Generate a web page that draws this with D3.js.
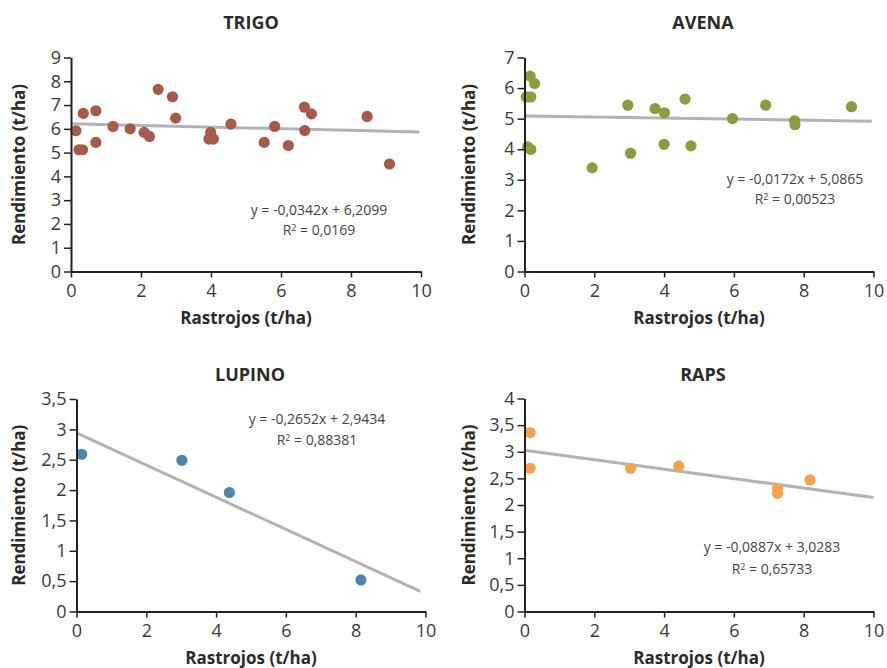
<!DOCTYPE html>
<html>
<head>
<meta charset="utf-8">
<script src="https://cdn.jsdelivr.net/npm/d3@7"></script>
<style>
  body { margin: 0; background: white; }
  text { font-family: "Open Sans", sans-serif; }
</style>
</head>
<body>
<div id="myVis"></div>
<script>
// ---- data ----
const crops = ["TRIGO", "AVENA", "LUPINO", "RAPS"]

const trigoX = [0.14, 0.23, 0.33, 0.35, 0.71, 0.71, 1.2, 1.69, 2.09, 2.24, 2.49, 2.9, 2.99, 3.99, 3.94, 4.07, 4.57, 5.52, 5.82, 6.21, 6.67, 6.87, 6.68, 8.46, 9.1]
const trigoY = [5.92, 5.12, 5.12, 6.65, 6.76, 5.43, 6.1, 6.0, 5.85, 5.68, 7.66, 7.35, 6.45, 5.85, 5.57, 5.57, 6.2, 5.43, 6.1, 5.3, 6.91, 6.63, 5.93, 6.52, 4.52]

const avenaX = [0.05, 0.18, 0.16, 0.29, 0.09, 0.18, 1.94, 2.96, 3.04, 3.74, 4.01, 4.0, 4.6, 4.77, 5.96, 6.91, 7.74, 7.75, 9.37]
const avenaY = [5.71, 5.71, 6.39, 6.15, 4.08, 3.99, 3.39, 5.44, 3.87, 5.33, 5.19, 4.16, 5.64, 4.11, 5.0, 5.44, 4.93, 4.8, 5.39]

const lupinoX = [0.15, 3.02, 4.38, 8.15]
const lupinoY = [2.59, 2.49, 1.96, 0.52]

const rapsX = [0.16, 0.16, 3.04, 4.42, 7.25, 7.25, 8.18]
const rapsY = [3.36, 2.69, 2.69, 2.73, 2.31, 2.22, 2.47]

// trend lines (from the printed equations)
const slopes = [-0.0342, -0.0172, -0.2652, -0.0887]
const intercepts = [6.2099, 5.0865, 2.9434, 3.0283]
const lineEnd = [9.95, 9.95, 9.85, 10]
const eqLabels = ["y = -0,0342x + 6,2099", "y = -0,0172x + 5,0865", "y = -0,2652x + 2,9434", "y = -0,0887x + 3,0283"]
const r2Labels = ["0,0169", "0,00523", "0,88381", "0,65733"]

// axes
const xTicks = [0, 2, 4, 6, 8, 10]
const yMax = [9, 7, 3.5, 4]
const yTicks = [
  [0, 1, 2, 3, 4, 5, 6, 7, 8, 9],
  [0, 1, 2, 3, 4, 5, 6, 7],
  [0, 0.5, 1, 1.5, 2, 2.5, 3, 3.5],
  [0, 0.5, 1, 1.5, 2, 2.5, 3, 3.5, 4]
]
const colors = ["#a65a4b", "#8c9c3e", "#4b86ab", "#f5a24c"]

const xLabel = "Rastrojos (t/ha)"
const yLabel = "Rendimiento (t/ha)"

// ---- layout ----
const width = 887, height = 668
const layout = [
  {left: 71, right: 421, top: 57.5, bottom: 271.5, titleX: 251, titleY: 29, ylx: 25, eqX: 319, eqY: 215, r2Y: 235},
  {left: 524.5, right: 873.5, top: 57.5, bottom: 271.5, titleX: 703, titleY: 29, ylx: 475, eqX: 795, eqY: 184, r2Y: 204},
  {left: 76.5, right: 425.5, top: 399, bottom: 611.5, titleX: 250, titleY: 381, ylx: 25, eqX: 317, eqY: 424, r2Y: 445},
  {left: 524.5, right: 873.5, top: 398.5, bottom: 611.5, titleX: 703, titleY: 381, ylx: 475, eqX: 772, eqY: 552, r2Y: 574}
]

const svg = d3.select("#myVis")
  .append("svg")
    .attr("width", width)
    .attr("height", height)
    .style("background-color", "white")

const comma = d => String(d).replace(".", ",")

const allX = [trigoX, avenaX, lupinoX, rapsX]
const allY = [trigoY, avenaY, lupinoY, rapsY]

crops.forEach((name, i) => {
  const L = layout[i]
  const x = d3.scaleLinear().domain([0, 10]).range([L.left, L.right])
  const y = d3.scaleLinear().domain([0, yMax[i]]).range([L.bottom, L.top])

  const g = svg.append("g")

  // title
  g.append("text")
    .attr("x", L.titleX).attr("y", L.titleY)
    .attr("text-anchor", "middle")
    .style("font-size", "18px").style("font-weight", "bold").style("fill", "#2b2b2b")
    .text(name)

  // y axis label
  g.append("text")
    .attr("transform", "translate(" + L.ylx + "," + ((L.top + L.bottom) / 2) + ") rotate(-90)")
    .attr("text-anchor", "middle")
    .style("font-size", "17px").style("font-weight", "bold").style("fill", "#2b2b2b")
    .text(yLabel)

  // x axis label
  g.append("text")
    .attr("x", (L.left + L.right) / 2).attr("y", L.bottom + 52)
    .attr("text-anchor", "middle")
    .style("font-size", "17px").style("font-weight", "bold").style("fill", "#2b2b2b")
    .text(xLabel)

  // trend line
  const ends = [0, lineEnd[i]]
  g.append("line")
    .attr("x1", x(ends[0])).attr("y1", y(intercepts[i] + slopes[i] * ends[0]))
    .attr("x2", x(ends[1])).attr("y2", y(intercepts[i] + slopes[i] * ends[1]))
    .style("stroke", "#b3b3b3").style("stroke-width", 3)

  // points
  g.append("g")
    .selectAll("circle")
    .data(allX[i].map((v, k) => ({x: v, y: allY[i][k]})))
    .enter()
    .append("circle")
      .attr("cx", d => x(d.x))
      .attr("cy", d => y(d.y))
      .attr("r", 5.6)
      .style("fill", colors[i])

  // axes
  const ya = g.append("g")
    .attr("transform", "translate(" + L.left + ",0)")
    .call(d3.axisLeft(y).tickValues(yTicks[i]).tickFormat(comma).tickSize(7).tickSizeOuter(0).tickPadding(3))
  const xa = g.append("g")
    .attr("transform", "translate(0," + L.bottom + ")")
    .call(d3.axisBottom(x).tickValues(xTicks).tickSize(6).tickSizeOuter(0).tickPadding(7))

  ;[ya, xa].forEach(a => {
    a.select(".domain").style("stroke", "#222").style("stroke-width", 2)
    a.selectAll(".tick line").style("stroke", "#222").style("stroke-width", 1.5)
    a.selectAll(".tick text").style("font-size", "18px").style("fill", "#3a3a3a").style("font-family", "Open Sans")
  })

  // equation
  g.append("text")
    .attr("x", L.eqX).attr("y", L.eqY)
    .attr("text-anchor", "middle")
    .style("font-size", "14px").style("fill", "#444")
    .text(eqLabels[i])
  const r2 = g.append("text")
    .attr("x", L.eqX).attr("y", L.r2Y)
    .attr("text-anchor", "middle")
    .style("font-size", "14px").style("fill", "#444")
  r2.append("tspan").text("R")
  r2.append("tspan").attr("dy", -4).style("font-size", "9px").text("2")
  r2.append("tspan").attr("dy", 4).text(" = " + r2Labels[i])
})
</script>
</body>
</html>
